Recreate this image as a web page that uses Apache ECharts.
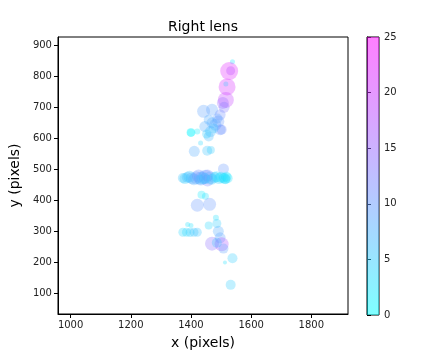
<!DOCTYPE html>
<html>
<head>
<meta charset="utf-8">
<script src="https://cdn.jsdelivr.net/npm/echarts@6/dist/echarts.min.js"></script>
<style>
  html, body { margin: 0; padding: 0; background: #fff; }
  #chart { width: 445px; height: 355px; }
</style>
</head>
<body>
<div id="chart"></div>
<script>
// detections on the right lens: position, colour value, marker size
const xs = [
  1538, 1527, 1532, 1520, 1516, 1516, 1506, 1510, 1442, 1470,
  1497, 1491, 1459, 1446, 1481, 1497, 1465, 1400, 1421, 1459,
  1502, 1432, 1411, 1454, 1466, 1400, 1475, 1488, 1452, 1470,
  1508, 1373, 1388, 1403, 1418, 1433, 1448, 1463, 1478, 1493,
  1508, 1522, 1455, 1435, 1448, 1421, 1462, 1483, 1389, 1400,
  1459, 1486, 1373, 1385, 1397, 1410, 1421, 1491, 1497, 1470,
  1502, 1486, 1508, 1538, 1513, 1532,
  1380, 1395, 1410, 1425, 1440, 1455, 1470, 1485, 1500, 1512,
  1518, 1515, 1430, 1445
];
const ys = [
  847, 817, 818, 766, 775, 724, 714, 700, 687, 692,
  676, 654, 660, 638, 644, 628, 622, 619, 622, 606,
  628, 585, 558, 560, 562, 618, 632, 664, 614, 650,
  501, 472, 474, 471, 473, 470, 476, 472, 474, 470,
  472, 471, 464, 418, 413, 384, 387, 344, 322, 319,
  319, 325, 297, 297, 296, 297, 297, 300, 279, 260,
  258, 263, 244, 213, 199, 127,
  470, 476, 468, 478, 472, 480, 468, 476, 474, 470,
  476, 468, 466, 470
];
const vals = [
  3, 22, 18, 21, 6, 19, 15, 13, 9, 9,
  11, 10, 8, 8, 9, 10, 7, 1, 2, 7,
  11, 4, 8, 6, 5, 1, 6, 9, 5, 8,
  10, 6, 7, 8, 9, 10, 9, 7, 6, 5,
  4, 3, 12, 2, 3, 10, 10, 3, 3, 3,
  4, 5, 4, 4, 5, 6, 6, 8, 9, 14,
  17, 6, 9, 5, 3, 5,
  5, 6, 8, 11, 7, 12, 5, 4, 3, 3,
  2, 4, 7, 6
];
const sizes = [
  5, 18, 9, 17, 5, 16, 12, 11, 13, 12,
  11, 12, 10, 11, 12, 11, 11, 9, 6, 10,
  10, 5, 11, 10, 8, 8, 10, 10, 9, 11,
  11, 10, 11, 12, 13, 14, 14, 13, 11, 11,
  10, 10, 12, 8, 7, 13, 13, 6, 5, 5,
  8, 9, 9, 9, 9, 9, 9, 11, 11, 14,
  14, 10, 10, 10, 4, 10,
  11, 12, 12, 13, 13, 12, 11, 11, 11, 11,
  10, 10, 10, 11
];
const xTicks = [1000, 1200, 1400, 1600, 1800];
const yTicks = [100, 200, 300, 400, 500, 600, 700, 800, 900];
const colorRange = [0, 25];

const points = xs.map((x, i) => [x, ys[i], vals[i], sizes[i]]);

const font = 'DejaVu Sans';
const chart = echarts.init(document.getElementById('chart'));

chart.setOption({
  animation: false,
  textStyle: { fontFamily: font },
  title: {
    text: 'Right lens',
    left: 198, top: 15,
    textAlign: 'center',
    textStyle: { fontSize: 14, fontWeight: 'normal', color: '#000', fontFamily: font }
  },
  grid: [
    { left: 48, top: 37, width: 300, height: 278, show: true, borderColor: '#000', borderWidth: 1 },
    { left: 367, top: 37, width: 12, height: 278, show: true, borderColor: '#000', borderWidth: 1 }
  ],
  xAxis: [
    {
      type: 'value', min: 958, max: 1922,
      name: 'x (pixels)', nameLocation: 'middle', nameGap: 22,
      nameTextStyle: { fontSize: 14, color: '#000', fontFamily: font },
      splitLine: { show: false },
      axisLine: { onZero: false, lineStyle: { color: '#000' } },
      axisTick: { customValues: xTicks, length: 4, lineStyle: { color: '#000' } },
      axisLabel: { customValues: xTicks, fontSize: 10, color: '#222', margin: 6, formatter: v => String(v) }
    },
    { gridIndex: 1, type: 'value', min: 0, max: 1, show: false }
  ],
  yAxis: [
    {
      type: 'value', min: 33, max: 927,
      name: 'y (pixels)', nameLocation: 'middle', nameGap: 34,
      nameTextStyle: { fontSize: 14, color: '#000', fontFamily: font },
      splitLine: { show: false },
      axisLine: { onZero: false, lineStyle: { color: '#000' } },
      axisTick: { customValues: yTicks, length: 4, lineStyle: { color: '#000' } },
      axisLabel: { customValues: yTicks, fontSize: 10, color: '#222', margin: 6, formatter: v => String(v) }
    },
    {
      gridIndex: 1, type: 'value', min: colorRange[0], max: colorRange[1], interval: 5, position: 'right',
      splitLine: { show: false },
      axisLine: { show: true, lineStyle: { color: '#000' } },
      axisTick: { show: true, length: 4, lineStyle: { color: '#000' } },
      axisLabel: { fontSize: 10, color: '#222', margin: 5 }
    }
  ],
  visualMap: {
    show: false,
    type: 'continuous',
    min: colorRange[0], max: colorRange[1],
    dimension: 2,
    seriesIndex: 0,
    inRange: { color: ['#00ffff', '#ff00ff'], opacity: 0.3 }
  },
  series: [
    {
      type: 'scatter',
      data: points,
      symbolSize: d => d[3]
    },
    {
      // colour bar
      type: 'custom',
      xAxisIndex: 1, yAxisIndex: 1,
      data: [[0, colorRange[0], 1, colorRange[1]]],
      renderItem: (params, api) => {
        const p0 = api.coord([api.value(0), api.value(1)]);
        const p1 = api.coord([api.value(2), api.value(3)]);
        return {
          type: 'rect',
          shape: { x: p0[0], y: p1[1], width: p1[0] - p0[0], height: p0[1] - p1[1] },
          style: {
            fill: new echarts.graphic.LinearGradient(0, 1, 0, 0, [
              { offset: 0, color: 'rgba(0,255,255,0.5)' },
              { offset: 1, color: 'rgba(255,0,255,0.5)' }
            ])
          }
        };
      }
    }
  ]
});
</script>
</body>
</html>
